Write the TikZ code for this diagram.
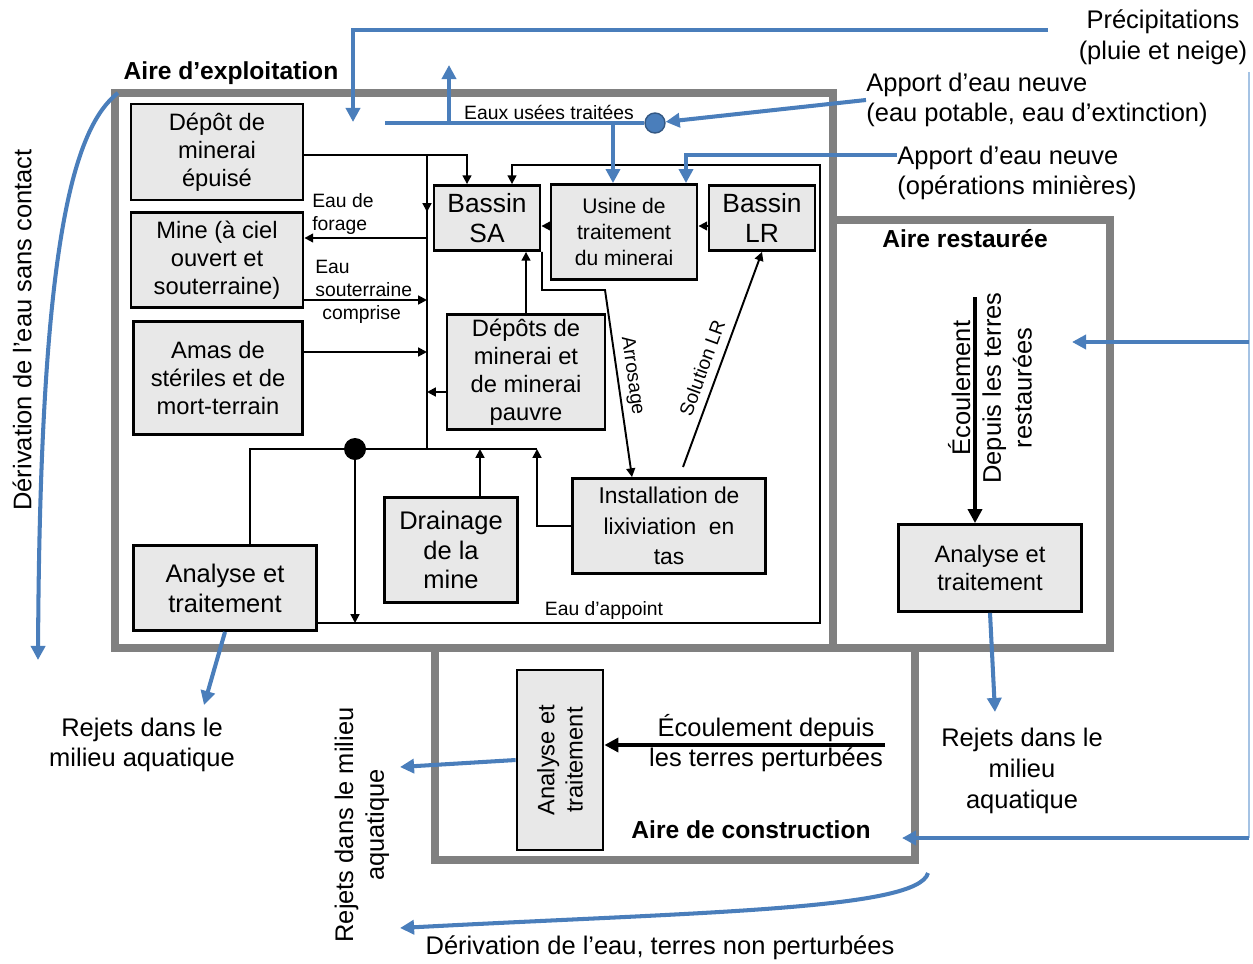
\documentclass[tikz,border=0pt]{standalone}
\usepackage{fontspec}
\setmainfont{Liberation Sans}
\usetikzlibrary{arrows.meta}
\definecolor{framegray}{RGB}{128,128,128}
\definecolor{boxgray}{RGB}{232,232,232}
\definecolor{waterblue}{RGB}{74,126,187}
\definecolor{paleblue}{RGB}{165,195,228}
\tikzset{
  frame/.style={draw=framegray, line width=4.5pt},
  box/.style={draw, line width=1.6pt, fill=boxgray, align=center, inner sep=1pt,
    font=\fontsize{13.5}{16}\selectfont},
  boxsize/.style 2 args={minimum width=#1*0.02cm, minimum height=#2*0.02cm},
  flow/.style={line width=1.1pt},
  flowarr/.style={flow, -{Triangle[length=5pt,width=5pt]}},
  bigarr/.style={line width=2.8pt, -{Triangle[length=8pt,width=8pt]}},
  water/.style={draw=waterblue, line width=2.3pt},
  waterarr/.style={water, -{Triangle[length=8pt,width=8pt]}},
  lbl/.style={align=center, inner sep=0pt, font=\fontsize{11}{13}\selectfont},
  biglbl/.style={align=center, inner sep=0pt, font=\fontsize{14.5}{17.5}\selectfont},
  area/.style={inner sep=0pt, font=\bfseries\fontsize{14}{16}\selectfont}
}
\begin{document}
\begin{tikzpicture}[x=0.02cm, y=-0.02cm]
  \useasboundingbox (0,0) rectangle (1253,963);

  % zones
  \draw[frame] (115,93) rectangle (833,648);
  \draw[frame] (833,220) rectangle (1110,648);
  \draw[frame] (435,648) rectangle (915,860);
  \node[area] (aexpl) at (231,73) {Aire d’exploitation};
  \node[area] (arest) at (965,239) {Aire restaurée};
  \node[area] (acons) at (751,830) {Aire de construction};

  % boxes
  \node[box, boxsize={172}{96}] (depot) at (217,152) {Dépôt de\\minerai\\épuisé};
  \node[box, boxsize={172}{95}] (mine) at (217,260) {Mine (à ciel\\ouvert et\\souterraine)};
  \node[box, boxsize={169}{113}] (amas) at (218,378) {Amas de\\stériles et de\\mort-terrain};
  \node[box, boxsize={183}{85}, font=\fontsize{14.5}{17}\selectfont] (anaE) at (225,588) {Analyse et\\traitement};
  \node[box, boxsize={106}{65}, font=\fontsize{15}{17.5}\selectfont] (bsa) at (487,218) {Bassin\\SA};
  \node[box, boxsize={146}{95}, font=\fontsize{12}{15}\selectfont] (usine) at (624,232) {Usine de\\traitement\\du minerai};
  \node[box, boxsize={106}{65}, font=\fontsize{15}{17.5}\selectfont] (blr) at (762,218) {Bassin\\LR};
  \node[box, boxsize={158}{115}] (depots) at (526,372) {Dépôts de\\minerai et\\de minerai\\pauvre};
  \node[box, boxsize={133}{105}, font=\fontsize{14.5}{17}\selectfont] (drain) at (451,550) {Drainage\\de la\\mine};
  \node[box, boxsize={193}{95}, font=\fontsize{13}{17.5}\selectfont] (lix) at (669,526) {Installation de\\lixiviation\ \ en\\tas};
  \node[box, boxsize={183}{87}] (anaR) at (990,568) {Analyse et\\traitement};
  \node[box, boxsize={180}{86}, rotate=90] (anaC) at (560,760) {Analyse et\\traitement};

  % junctions
  \coordinate (jA) at (427,155);
  \coordinate (jD) at (427,212);
  \coordinate (jF) at (427,238);
  \coordinate (jS) at (427,300);
  \coordinate (jM) at (427,352);
  \coordinate (jP) at (427,392);
  \coordinate (jB) at (427,449);
  \coordinate (jL) at (250,449);
  \coordinate (jDot) at (355,449);
  \coordinate (jDr) at (480,449);
  \coordinate (jR) at (537,449);
  \coordinate (jBot) at (355,623);
  \coordinate (jSE) at (820,623);
  \coordinate (jNE) at (820,165);
  \coordinate (xSA) at (467,155);
  \coordinate (xSB) at (512,165);
  \coordinate (jU) at (545,226);
  \coordinate (jW1) at (542,290);
  \coordinate (jW2) at (605,290);
  \coordinate (xArr) at (632,478);
  \coordinate (jSol) at (683,467);

  % black flows
  \draw[flowarr] (depot.east |- jA) -| (bsa.north -| xSA);
  \draw[flow] (jA) -- (jB);
  \draw[flowarr] (jA) -- (jD);
  \draw[flowarr] (jF) -- (mine.east |- jF);
  \draw[flowarr] (mine.east |- jS) -- (jS);
  \draw[flowarr] (amas.east |- jM) -- (jM);
  \draw[flowarr] (depots.west |- jP) -- (jP);
  \draw[flow] (jL |- anaE.north) -- (jL) -- (jR);
  \draw[flowarr] (jDot) -- (jBot);
  \fill (jDot) circle (11);
  \draw[flowarr] (drain.north -| jDr) -- (jDr);
  \draw[flowarr] (lix.west) -| (jR);
  \draw[flowarr] (anaE.east |- jBot) -- (jSE) -- (jNE) -| (bsa.north -| xSB);
  \draw[flowarr] (usine.west |- jU) -- (bsa.east |- jU);
  \draw[flowarr] (blr.west |- jU) -- (usine.east |- jU);
  \draw[flowarr] (bsa.south -| jW1) -- (jW1) -- (jW2) -- (lix.north -| xArr);
  \draw[flowarr] (jSol) -- (blr.south);
  \draw[flowarr] (depots.north) -- (bsa.south -| depots.north);

  \node[lbl, align=left, anchor=west] (forage) at (312,214) {Eau de\\forage};
  \node[lbl, align=left, anchor=west] (souter) at (315,292) {Eau\\souterraine\\\hspace*{4pt}comprise};
  \node[lbl] (appoint) at (604,610) {Eau d’appoint};
  \node[lbl] (usees) at (549,112) {Eaux usées traitées};
  \node[lbl, rotate=-82] (arros) at (632,376) {Arrosage};
  \node[lbl, rotate=70] (sollr) at (702,368) {Solution LR};

  % water in
  \coordinate (pA) at (1048,30);
  \coordinate (pB) at (353,122);
  \draw[waterarr] (pA) -| (pB);
  \node[biglbl] (precip) at (1163,37) {Précipitations\\(pluie et neige)};
  \coordinate (eA) at (385,123);
  \node[circle, fill=waterblue, draw=waterblue!70!black, line width=0.8pt,
    minimum size=0.4cm, inner sep=0pt] (bdot) at (655,123) {};
  \draw[water] (eA) -- (bdot);
  \coordinate (eU) at (449,123);
  \coordinate (eV) at (449,65);
  \draw[waterarr] (eU) -- (eV);
  \coordinate (jUs) at (613,123);
  \draw[waterarr] (jUs) -- (usine.north -| jUs);
  \node[biglbl, align=left, anchor=west] (apport1) at (866,100) {Apport d’eau neuve\\(eau potable, eau d’extinction)};
  \draw[waterarr] (apport1.west) -- (bdot);
  \node[biglbl, align=left, anchor=west] (apport2) at (897,173) {Apport d’eau neuve\\(opérations minières)};
  \coordinate (aX) at (686,155);
  \draw[waterarr] (apport2.west |- aX) -| (usine.north -| aX);

  % right side
  \coordinate (rTop) at (1249,72);
  \coordinate (rMid) at (1249,342);
  \coordinate (rBot) at (1249,838);
  \draw[paleblue, line width=1pt] (rTop) -- (rBot);
  \coordinate (rArr) at (1072,342);
  \draw[waterarr] (rMid) -- (rArr);
  \coordinate (cArr) at (902,838);
  \draw[waterarr] (rBot) -- (cArr);

  % diversions
  \coordinate (lS) at (118,93);
  \coordinate (lE) at (38,660);
  \draw[waterarr] (lS) .. controls (70,130) and (40,260) .. (lE);
  \node[biglbl, rotate=90] (derivL) at (22,330) {Dérivation de l'eau sans contact};
  \coordinate (bS) at (928,873);
  \coordinate (bE) at (400,928);
  \draw[waterarr] (bS) .. controls (918,910) and (700,912) .. (bE);
  \node[biglbl] (derivB) at (660,948) {Dérivation de l’eau, terres non perturbées};

  % discharges
  \node[biglbl] (rejE) at (142,745) {Rejets dans le\\milieu aquatique};
  \coordinate (rjE) at (204,705);
  \draw[waterarr] (anaE.south) -- (rjE);
  \node[biglbl] (rejR) at (1022,771) {Rejets dans le\\milieu\\aquatique};
  \coordinate (rjR) at (995,712);
  \draw[waterarr] (anaR.south) -- (rjR);
  \node[biglbl, rotate=90] (rejC) at (362,825) {Rejets dans le milieu\\aquatique};
  \coordinate (rjC) at (400,767);
  \draw[waterarr] (anaC.north) -- (rjC);

  % runoff
  \coordinate (cE) at (885,745);
  \draw[bigarr] (cE) -- (anaC.south |- cE);
  \node[biglbl] (ecoulC) at (766,743) {Écoulement depuis\\les terres perturbées};
  \coordinate (rS) at (975,297);
  \draw[bigarr] (rS) -- (anaR.north -| rS);
  \node[biglbl, rotate=90] (ecoulR) at (990,388) {Écoulement\\Depuis les terres\\restaurées};
\end{tikzpicture}
\end{document}
